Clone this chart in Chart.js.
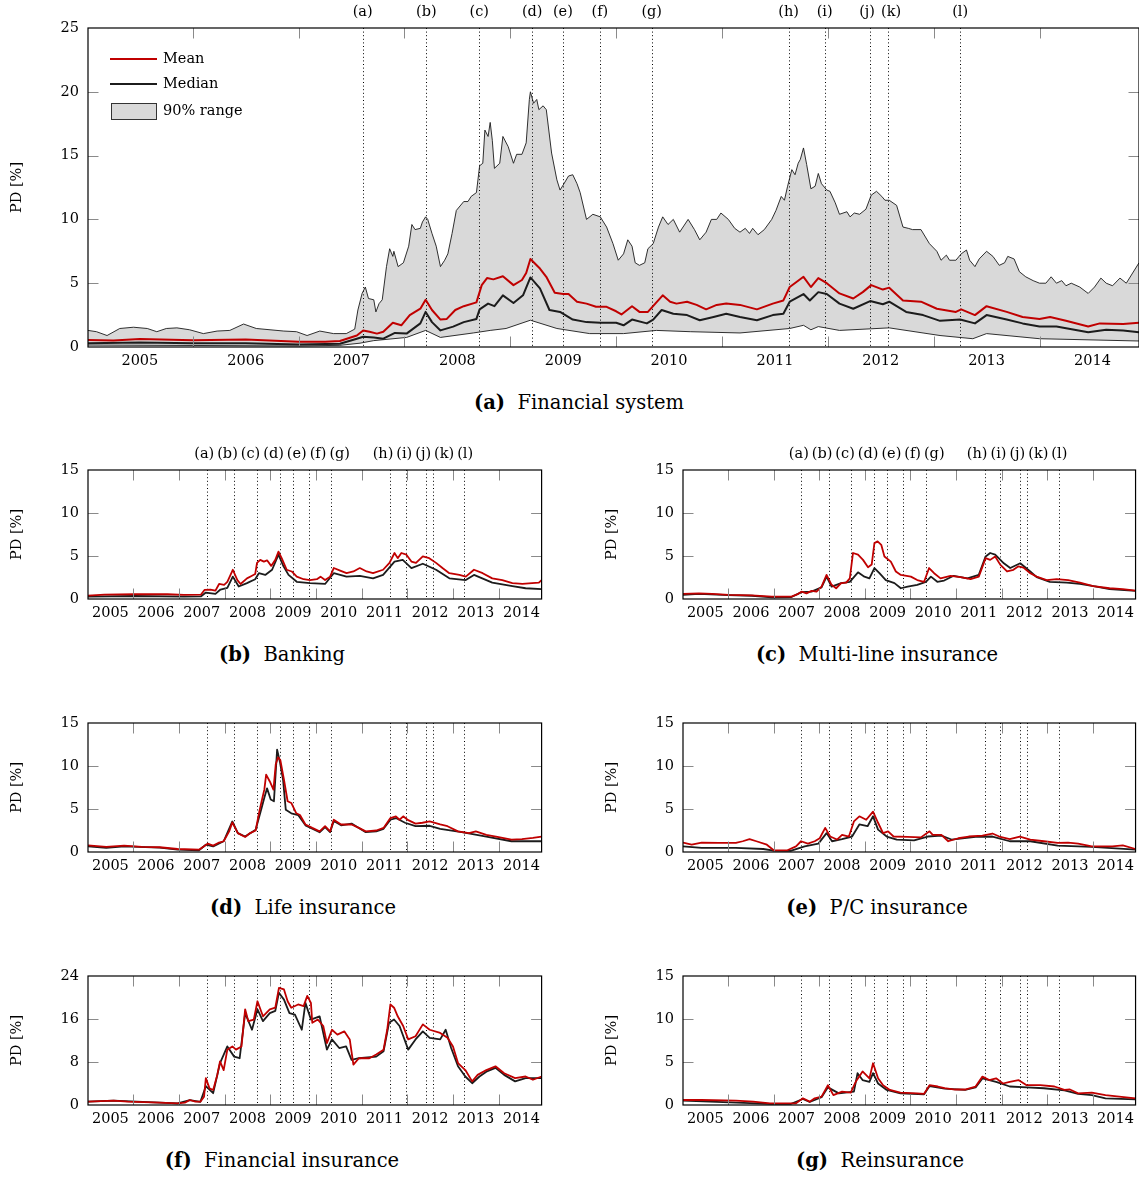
<!DOCTYPE html>
<html>
<head>
<meta charset="utf-8">
<script src="https://cdn.jsdelivr.net/npm/chart.js@4.4.0/dist/chart.umd.min.js"></script>
<style>
  body { margin:0; background:#fff; width:1139px; height:1178px; overflow:hidden; position:relative; font-family:"DejaVu Serif", serif; }
  canvas { position:absolute; }
  .cap { position:absolute; transform:translateX(-50%); white-space:nowrap; font-size:19.5px; line-height:22px; color:#000; }
</style>
</head>
<body>
<script>
// ---- axis / category data ----
const YEARS = [2005, 2006, 2007, 2008, 2009, 2010, 2011, 2012, 2013, 2014];
const HALF_YEAR_MARKS = [2005.5, 2006.5, 2007.5, 2008.5, 2009.5, 2010.5, 2011.5, 2012.5, 2013.5];
const X_MIN = 2004.51, X_MAX = 2014.44;
const EVENT_DATES = [2007.105, 2007.706, 2008.206, 2008.707, 2008.997, 2009.346, 2009.836, 2011.13, 2011.47, 2011.90, 2012.068, 2012.75];
const EVENT_LABELS = ['(a)','(b)','(c)','(d)','(e)','(f)','(g)','(h)','(i)','(j)','(k)','(l)'];
const LEGEND_LABELS = ['Mean', 'Median', '90% range'];

// ---- (a) financial system: [decimal year, PD %] ----
const MAIN_UPPER = [[2004.51,1.3],[2004.59,1.2],[2004.69,0.9],[2004.81,1.45],[2004.94,1.55],[2005.07,1.45],[2005.16,1.2],[2005.25,1.45],[2005.35,1.5],[2005.47,1.35],[2005.60,1.05],[2005.73,1.25],[2005.85,1.3],[2005.98,1.8],[2006.10,1.45],[2006.23,1.35],[2006.36,1.25],[2006.48,1.2],[2006.58,0.9],[2006.70,1.25],[2006.83,1.05],[2006.95,1.05],[2007.03,1.4],[2007.06,2.9],[2007.10,4.2],[2007.13,4.7],[2007.16,3.8],[2007.21,3.7],[2007.23,2.75],[2007.26,3.4],[2007.29,3.7],[2007.33,6.3],[2007.36,7.7],[2007.39,7.1],[2007.40,7.5],[2007.44,6.3],[2007.49,6.6],[2007.54,7.9],[2007.57,9.6],[2007.60,9.2],[2007.65,9.3],[2007.67,9.8],[2007.70,10.2],[2007.72,10.0],[2007.76,8.9],[2007.80,7.9],[2007.84,6.3],[2007.88,6.8],[2007.91,7.3],[2007.95,8.9],[2007.99,10.7],[2008.06,11.4],[2008.10,11.4],[2008.13,11.8],[2008.18,12.1],[2008.21,14.2],[2008.24,14.4],[2008.26,17.0],[2008.29,16.5],[2008.31,17.6],[2008.33,16.2],[2008.35,14.0],[2008.40,14.4],[2008.43,16.5],[2008.48,15.7],[2008.53,14.4],[2008.56,15.1],[2008.61,15.1],[2008.65,16.0],[2008.68,19.4],[2008.69,20.0],[2008.72,19.1],[2008.75,19.4],[2008.77,18.6],[2008.81,18.9],[2008.84,18.6],[2008.89,15.2],[2008.94,13.1],[2008.97,12.3],[2009.00,12.7],[2009.05,13.4],[2009.09,13.5],[2009.13,12.8],[2009.16,12.1],[2009.22,10.0],[2009.28,10.4],[2009.35,10.2],[2009.41,9.4],[2009.47,8.1],[2009.52,6.8],[2009.57,7.3],[2009.61,8.4],[2009.65,7.9],[2009.68,6.6],[2009.72,6.4],[2009.77,6.6],[2009.80,7.7],[2009.85,8.1],[2009.90,9.4],[2009.94,10.2],[2009.99,9.6],[2010.04,10.0],[2010.10,9.0],[2010.18,10.0],[2010.24,9.2],[2010.29,8.4],[2010.35,9.0],[2010.40,10.0],[2010.45,10.0],[2010.49,10.5],[2010.56,10.0],[2010.62,9.3],[2010.67,9.0],[2010.72,9.3],[2010.76,8.9],[2010.79,9.3],[2010.84,8.8],[2010.90,9.2],[2010.97,10.0],[2011.01,10.7],[2011.06,11.8],[2011.09,11.5],[2011.12,12.6],[2011.16,13.9],[2011.19,13.5],[2011.22,14.4],[2011.24,14.7],[2011.27,15.6],[2011.30,14.3],[2011.34,12.4],[2011.38,12.6],[2011.41,13.6],[2011.44,12.8],[2011.49,12.3],[2011.52,12.2],[2011.57,11.3],[2011.61,10.4],[2011.68,10.6],[2011.71,10.2],[2011.75,10.5],[2011.80,10.4],[2011.86,10.8],[2011.91,11.9],[2011.96,12.2],[2012.01,11.8],[2012.04,11.5],[2012.08,11.5],[2012.15,11.1],[2012.21,9.4],[2012.26,9.3],[2012.30,9.2],[2012.38,9.2],[2012.46,8.1],[2012.53,7.5],[2012.57,6.8],[2012.62,7.2],[2012.65,6.8],[2012.71,6.8],[2012.76,7.3],[2012.81,7.6],[2012.84,6.8],[2012.89,6.3],[2012.93,6.9],[2013.00,7.5],[2013.06,7.1],[2013.12,6.4],[2013.17,6.6],[2013.20,7.1],[2013.26,6.9],[2013.31,5.9],[2013.37,5.5],[2013.44,5.2],[2013.50,5.0],[2013.56,5.0],[2013.61,5.5],[2013.66,5.0],[2013.71,5.2],[2013.75,4.8],[2013.80,5.0],[2013.88,4.7],[2013.96,4.2],[2014.02,4.7],[2014.08,5.4],[2014.13,5.0],[2014.19,4.8],[2014.26,5.4],[2014.32,5.0],[2014.38,5.8],[2014.44,6.6]];
const MAIN_MEAN = [[2004.51,0.55],[2004.75,0.5],[2005.0,0.62],[2005.5,0.52],[2006.0,0.58],[2006.5,0.42],[2006.75,0.42],[2006.89,0.47],[2007.05,0.9],[2007.11,1.3],[2007.17,1.2],[2007.24,1.05],[2007.30,1.2],[2007.39,1.9],[2007.47,1.7],[2007.55,2.5],[2007.65,3.0],[2007.70,3.7],[2007.76,2.9],[2007.84,2.15],[2007.90,2.2],[2007.98,2.9],[2008.06,3.2],[2008.18,3.5],[2008.23,4.85],[2008.28,5.4],[2008.34,5.3],[2008.43,5.55],[2008.53,4.85],[2008.61,5.25],[2008.65,5.8],[2008.69,6.9],[2008.78,6.15],[2008.84,5.5],[2008.92,4.25],[2009.00,4.15],[2009.05,4.15],[2009.13,3.55],[2009.22,3.4],[2009.31,3.15],[2009.41,3.15],[2009.50,2.8],[2009.55,2.55],[2009.65,3.2],[2009.72,2.75],[2009.80,2.75],[2009.87,3.4],[2009.94,4.05],[2010.01,3.55],[2010.07,3.4],[2010.17,3.55],[2010.26,3.3],[2010.35,2.95],[2010.45,3.3],[2010.54,3.4],[2010.67,3.3],[2010.83,2.95],[2010.98,3.4],[2011.08,3.65],[2011.14,4.7],[2011.27,5.5],[2011.34,4.7],[2011.41,5.4],[2011.49,5.0],[2011.61,4.2],[2011.74,3.8],[2011.83,4.3],[2011.91,4.85],[2012.02,4.5],[2012.08,4.65],[2012.21,3.65],[2012.38,3.55],[2012.53,3.0],[2012.71,2.75],[2012.76,2.95],[2012.89,2.5],[2013.00,3.2],[2013.19,2.75],[2013.34,2.35],[2013.50,2.2],[2013.60,2.35],[2013.75,2.05],[2013.96,1.6],[2014.07,1.85],[2014.29,1.8],[2014.44,1.9]];
const MAIN_MEDIAN = [[2004.51,0.3],[2005.0,0.35],[2005.5,0.3],[2006.0,0.3],[2006.5,0.2],[2006.89,0.26],[2007.05,0.65],[2007.11,0.8],[2007.21,0.75],[2007.30,0.65],[2007.41,1.1],[2007.52,1.05],[2007.65,1.85],[2007.70,2.75],[2007.76,1.95],[2007.84,1.3],[2007.96,1.6],[2008.06,1.95],[2008.18,2.2],[2008.21,2.95],[2008.29,3.4],[2008.35,3.2],[2008.43,4.05],[2008.53,3.45],[2008.62,4.05],[2008.69,5.45],[2008.78,4.6],[2008.87,2.9],[2008.97,2.75],[2009.09,2.15],[2009.22,1.95],[2009.35,1.9],[2009.50,1.9],[2009.57,1.7],[2009.65,2.15],[2009.79,1.85],[2009.85,2.15],[2009.93,2.9],[2010.04,2.6],[2010.17,2.5],[2010.29,2.1],[2010.42,2.35],[2010.54,2.6],[2010.67,2.35],[2010.83,2.1],[2010.98,2.5],[2011.08,2.6],[2011.14,3.55],[2011.27,4.15],[2011.33,3.65],[2011.41,4.3],[2011.49,4.15],[2011.61,3.4],[2011.74,3.0],[2011.90,3.6],[2012.02,3.35],[2012.08,3.55],[2012.24,2.75],[2012.40,2.5],[2012.56,2.05],[2012.75,2.15],[2012.89,1.85],[2013.00,2.5],[2013.19,2.15],[2013.34,1.85],[2013.50,1.6],[2013.66,1.6],[2013.96,1.15],[2014.13,1.35],[2014.29,1.3],[2014.44,1.15]];
const MAIN_LOWER = [[2004.51,0.15],[2005.5,0.12],[2006.5,0.08],[2006.89,0.13],[2007.08,0.3],[2007.21,0.5],[2007.52,0.75],[2007.70,1.3],[2007.84,0.75],[2008.15,1.1],[2008.31,1.3],[2008.46,1.45],[2008.69,2.1],[2008.94,1.45],[2009.25,1.05],[2009.57,1.05],[2009.88,1.3],[2010.20,1.2],[2010.67,1.1],[2011.14,1.45],[2011.27,1.7],[2011.34,1.35],[2011.41,1.6],[2011.61,1.3],[2012.08,1.5],[2012.56,0.9],[2012.87,0.65],[2013.00,1.05],[2013.50,0.65],[2014.44,0.47]];

// ---- (b) banking ----
const BANK_MEAN = [[2004.51,0.39],[2004.87,0.5],[2005.53,0.55],[2006.25,0.55],[2006.61,0.47],[2006.98,0.5],[2007.06,1.05],[2007.19,1.1],[2007.30,0.97],[2007.38,1.75],[2007.49,1.65],[2007.56,2.0],[2007.68,3.4],[2007.78,2.2],[2007.85,1.75],[2007.99,2.4],[2008.10,2.7],[2008.17,2.9],[2008.21,4.2],[2008.28,4.55],[2008.36,4.35],[2008.43,4.5],[2008.52,3.85],[2008.61,4.55],[2008.68,5.5],[2008.75,4.75],[2008.86,3.4],[2008.97,3.2],[2009.08,2.6],[2009.23,2.3],[2009.37,2.2],[2009.52,2.3],[2009.60,2.6],[2009.70,2.2],[2009.81,2.6],[2009.89,3.6],[2010.03,3.3],[2010.17,3.0],[2010.32,3.2],[2010.46,3.6],[2010.61,3.2],[2010.75,3.0],[2010.97,3.4],[2011.11,4.2],[2011.22,5.35],[2011.29,4.75],[2011.37,5.35],[2011.48,5.15],[2011.59,4.35],[2011.69,4.2],[2011.84,4.95],[2011.98,4.75],[2012.13,4.2],[2012.27,3.6],[2012.42,3.0],[2012.64,2.8],[2012.78,2.6],[2012.96,3.4],[2013.15,3.0],[2013.36,2.4],[2013.58,2.2],[2013.80,1.85],[2014.02,1.75],[2014.23,1.85],[2014.38,1.9],[2014.44,2.2]];
const BANK_MEDIAN = [[2004.51,0.27],[2005.53,0.35],[2006.61,0.27],[2006.98,0.3],[2007.09,0.75],[2007.30,0.6],[2007.41,1.1],[2007.56,1.3],[2007.68,2.6],[2007.81,1.45],[2007.99,1.85],[2008.17,2.3],[2008.25,3.0],[2008.39,2.8],[2008.54,3.4],[2008.68,5.15],[2008.79,3.8],[2008.90,2.8],[2009.08,2.0],[2009.37,1.85],[2009.70,1.75],[2009.89,3.0],[2010.17,2.6],[2010.46,2.7],[2010.75,2.4],[2010.97,2.8],[2011.22,4.35],[2011.40,4.55],[2011.59,3.6],[2011.84,4.1],[2012.13,3.4],[2012.42,2.4],[2012.78,2.2],[2012.96,2.8],[2013.36,1.9],[2013.80,1.5],[2014.09,1.25],[2014.44,1.15]];

// ---- (c) multi-line insurance ----
const MULTI_MEAN = [[2004.51,0.6],[2004.86,0.65],[2005.15,0.6],[2005.51,0.47],[2006.02,0.43],[2006.46,0.27],[2006.89,0.27],[2007.04,0.6],[2007.11,0.85],[2007.22,0.65],[2007.33,0.95],[2007.44,0.85],[2007.55,1.45],[2007.66,2.8],[2007.77,1.65],[2007.87,1.25],[2007.98,1.85],[2008.09,1.9],[2008.17,2.4],[2008.24,5.35],[2008.35,5.15],[2008.46,4.55],[2008.57,3.7],[2008.65,4.0],[2008.71,6.5],[2008.78,6.7],[2008.86,6.3],[2008.93,4.95],[2009.07,4.35],[2009.18,3.2],[2009.29,2.8],[2009.51,2.6],[2009.65,2.2],[2009.80,2.0],[2009.91,3.6],[2010.02,3.0],[2010.16,2.4],[2010.38,2.7],[2010.60,2.55],[2010.82,2.3],[2011.00,2.6],[2011.15,4.75],[2011.25,4.55],[2011.36,4.95],[2011.47,4.0],[2011.62,3.2],[2011.76,3.4],[2011.87,3.8],[2011.98,3.65],[2012.13,3.0],[2012.27,2.6],[2012.49,2.2],[2012.71,2.3],[2012.96,2.2],[2013.22,1.9],[2013.51,1.5],[2013.87,1.25],[2014.16,1.15],[2014.44,0.97]];
const MULTI_MEDIAN = [[2004.51,0.47],[2004.86,0.6],[2005.51,0.45],[2006.02,0.38],[2006.46,0.2],[2006.89,0.23],[2007.11,0.8],[2007.33,0.85],[2007.55,1.35],[2007.66,2.6],[2007.77,1.45],[2007.98,1.85],[2008.17,2.0],[2008.35,3.1],[2008.49,2.6],[2008.60,2.4],[2008.71,3.6],[2008.82,3.0],[2008.96,2.2],[2009.15,1.85],[2009.29,1.25],[2009.44,1.45],[2009.65,1.65],[2009.84,2.0],[2009.95,2.6],[2010.09,2.0],[2010.24,2.15],[2010.45,2.7],[2010.75,2.4],[2011.00,2.8],[2011.15,4.95],[2011.25,5.35],[2011.36,5.15],[2011.55,4.15],[2011.69,3.6],[2011.91,4.15],[2012.13,3.2],[2012.27,2.55],[2012.56,2.0],[2012.93,1.9],[2013.22,1.75],[2013.58,1.45],[2013.87,1.15],[2014.44,0.95]];

// ---- (d) life insurance ----
const LIFE_MEAN = [[2004.51,0.78],[2004.91,0.6],[2005.30,0.74],[2005.69,0.6],[2006.08,0.55],[2006.47,0.35],[2006.94,0.27],[2007.05,0.66],[2007.13,0.97],[2007.25,0.74],[2007.36,1.05],[2007.48,1.25],[2007.60,2.4],[2007.67,3.45],[2007.79,2.2],[2007.95,1.75],[2008.06,2.2],[2008.18,2.5],[2008.26,4.7],[2008.32,6.1],[2008.37,7.25],[2008.41,9.0],[2008.49,8.2],[2008.57,7.25],[2008.62,10.2],[2008.67,11.0],[2008.72,10.7],[2008.80,8.4],[2008.88,5.9],[2008.96,5.7],[2009.07,4.5],[2009.15,4.3],[2009.27,3.2],[2009.42,2.8],[2009.58,2.4],[2009.70,3.0],[2009.81,2.4],[2009.89,3.75],[2010.05,3.2],[2010.28,3.2],[2010.44,2.8],[2010.59,2.4],[2010.82,2.5],[2010.98,2.8],[2011.13,3.95],[2011.25,4.15],[2011.33,3.75],[2011.41,4.15],[2011.52,3.7],[2011.68,3.3],[2011.83,3.4],[2011.99,3.55],[2012.22,3.2],[2012.38,3.0],[2012.61,2.4],[2012.85,2.2],[2013.00,2.4],[2013.23,2.0],[2013.47,1.75],[2013.78,1.45],[2014.01,1.5],[2014.25,1.65],[2014.44,1.8]];
const LIFE_MEDIAN = [[2004.51,0.66],[2004.91,0.47],[2005.30,0.66],[2006.08,0.5],[2006.47,0.27],[2006.94,0.2],[2007.09,0.85],[2007.25,0.66],[2007.48,1.25],[2007.67,3.55],[2007.79,2.2],[2007.95,1.8],[2008.18,2.6],[2008.30,4.9],[2008.37,6.3],[2008.43,7.4],[2008.51,6.1],[2008.58,5.9],[2008.65,11.9],[2008.71,10.5],[2008.78,8.4],[2008.84,4.9],[2008.96,4.5],[2009.11,4.3],[2009.27,3.1],[2009.42,2.7],[2009.58,2.3],[2009.70,2.9],[2009.81,2.3],[2009.89,3.6],[2010.05,3.1],[2010.28,3.3],[2010.44,2.8],[2010.59,2.3],[2010.82,2.4],[2010.98,2.7],[2011.13,3.75],[2011.25,3.95],[2011.45,3.4],[2011.68,3.0],[2011.99,3.05],[2012.22,2.7],[2012.69,2.3],[2013.23,1.8],[2013.78,1.25],[2014.44,1.25]];

// ---- (e) P/C insurance ----
const PC_MEAN = [[2004.51,1.1],[2004.70,0.85],[2004.92,1.1],[2005.30,1.05],[2005.67,1.05],[2005.82,1.25],[2005.97,1.5],[2006.12,1.25],[2006.35,0.85],[2006.50,0.2],[2006.80,0.2],[2006.99,0.66],[2007.10,1.25],[2007.25,0.97],[2007.40,1.25],[2007.51,1.6],[2007.63,2.8],[2007.74,1.8],[2007.89,1.45],[2008.00,2.0],[2008.15,1.8],[2008.26,3.55],[2008.38,4.15],[2008.53,3.75],[2008.68,4.7],[2008.79,3.4],[2008.90,2.2],[2009.01,2.4],[2009.13,1.8],[2009.43,1.75],[2009.73,1.7],[2009.92,2.4],[2009.99,2.0],[2010.18,2.0],[2010.33,1.25],[2010.55,1.6],[2010.78,1.8],[2011.08,1.9],[2011.30,2.15],[2011.45,1.8],[2011.68,1.5],[2011.90,1.8],[2012.13,1.45],[2012.43,1.25],[2012.73,1.05],[2012.96,1.1],[2013.18,0.97],[2013.48,0.66],[2013.93,0.66],[2014.16,0.78],[2014.44,0.35]];
const PC_MEDIAN = [[2004.51,0.66],[2004.92,0.47],[2005.67,0.47],[2006.27,0.35],[2006.50,0.15],[2006.87,0.12],[2007.18,0.66],[2007.48,0.97],[2007.66,2.2],[2007.78,1.25],[2008.00,1.5],[2008.22,1.8],[2008.38,3.2],[2008.56,3.0],[2008.68,4.15],[2008.79,2.6],[2008.98,1.8],[2009.20,1.45],[2009.58,1.35],[2009.88,1.8],[2010.18,1.9],[2010.40,1.45],[2010.93,1.75],[2011.30,1.8],[2011.68,1.25],[2012.13,1.25],[2012.73,0.74],[2013.48,0.6],[2014.44,0.27]];

// ---- (f) financial insurance ----
const FIN_MEAN = [[2004.51,0.62],[2005.07,0.8],[2005.38,0.62],[2006.08,0.44],[2006.47,0.31],[2006.63,0.44],[2006.74,0.93],[2006.86,0.62],[2006.97,0.62],[2007.05,1.55],[2007.09,5.0],[2007.17,3.1],[2007.25,2.8],[2007.34,5.6],[2007.40,8.1],[2007.48,6.5],[2007.56,10.3],[2007.67,10.9],[2007.75,10.3],[2007.87,10.9],[2007.95,17.8],[2008.02,15.6],[2008.14,15.9],[2008.22,19.3],[2008.34,16.5],[2008.49,17.8],[2008.61,18.1],[2008.69,21.8],[2008.80,21.5],[2008.88,19.3],[2008.96,18.1],[2009.11,18.7],[2009.23,18.4],[2009.31,20.3],[2009.39,19.0],[2009.42,15.3],[2009.54,15.9],[2009.66,14.7],[2009.74,11.5],[2009.85,14.0],[2009.97,13.1],[2010.12,13.7],[2010.24,12.2],[2010.32,7.5],[2010.44,8.7],[2010.67,8.7],[2010.82,9.4],[2010.98,10.3],[2011.06,14.0],[2011.13,18.7],[2011.21,18.1],[2011.29,16.5],[2011.41,14.7],[2011.52,12.2],[2011.68,12.8],[2011.84,15.0],[2011.99,14.0],[2012.22,13.4],[2012.38,12.5],[2012.50,10.9],[2012.61,7.8],[2012.77,6.5],[2012.92,4.4],[2013.04,5.6],[2013.23,6.5],[2013.43,7.2],[2013.62,5.9],[2013.86,5.0],[2014.09,5.3],[2014.25,4.7],[2014.44,5.3]];
const FIN_MEDIAN = [[2004.51,0.62],[2005.07,0.8],[2006.08,0.44],[2006.47,0.31],[2006.74,0.9],[2006.97,0.6],[2007.09,3.5],[2007.25,2.2],[2007.40,7.8],[2007.56,10.9],[2007.71,9.0],[2007.83,8.7],[2007.95,17.1],[2008.10,14.0],[2008.22,17.8],[2008.34,15.6],[2008.49,17.1],[2008.61,17.5],[2008.69,20.9],[2008.80,19.6],[2008.92,17.1],[2009.04,16.8],[2009.19,14.0],[2009.27,19.0],[2009.39,15.9],[2009.58,16.5],[2009.74,10.3],[2009.85,12.2],[2010.01,10.6],[2010.16,10.9],[2010.28,8.4],[2010.44,8.7],[2010.82,9.0],[2010.98,10.0],[2011.10,15.3],[2011.21,15.9],[2011.33,14.7],[2011.52,10.3],[2011.68,12.2],[2011.84,13.7],[2011.99,12.5],[2012.22,12.2],[2012.34,14.0],[2012.46,10.6],[2012.61,7.2],[2012.77,5.3],[2012.92,4.05],[2013.08,5.3],[2013.23,6.2],[2013.43,6.9],[2013.62,5.6],[2013.86,4.4],[2014.09,5.0],[2014.44,5.0]];

// ---- (g) reinsurance ----
const RE_MEAN = [[2004.51,0.58],[2004.92,0.58],[2005.67,0.5],[2006.05,0.39],[2006.42,0.19],[2006.87,0.19],[2006.99,0.19],[2007.14,0.78],[2007.29,0.39],[2007.40,0.78],[2007.55,0.97],[2007.69,2.3],[2007.81,1.15],[2008.00,1.55],[2008.19,1.45],[2008.30,2.7],[2008.45,3.9],[2008.60,3.1],[2008.68,4.85],[2008.79,3.1],[2008.90,2.3],[2009.05,1.75],[2009.28,1.45],[2009.65,1.35],[2009.80,1.3],[2009.92,2.3],[2010.10,2.15],[2010.25,1.95],[2010.48,1.8],[2010.70,1.8],[2010.93,2.15],[2011.08,3.3],[2011.23,2.9],[2011.38,3.1],[2011.53,2.5],[2011.68,2.7],[2011.87,2.9],[2012.05,2.3],[2012.35,2.3],[2012.66,2.15],[2012.88,1.75],[2013.00,1.8],[2013.18,1.35],[2013.48,1.45],[2013.78,1.15],[2014.08,0.97],[2014.44,0.78]];
const RE_MEDIAN = [[2004.51,0.5],[2006.42,0.12],[2006.87,0.12],[2007.14,0.7],[2007.29,0.35],[2007.55,0.9],[2007.69,2.05],[2007.93,1.35],[2008.26,1.55],[2008.34,3.7],[2008.45,2.9],[2008.60,2.7],[2008.68,3.7],[2008.79,2.5],[2008.98,1.75],[2009.28,1.35],[2009.80,1.25],[2009.92,2.2],[2010.25,1.9],[2010.70,1.75],[2010.93,2.05],[2011.08,3.1],[2011.38,2.7],[2011.68,2.15],[2012.05,2.05],[2012.43,1.95],[2012.88,1.7],[2013.18,1.3],[2013.48,1.15],[2013.78,0.78],[2014.44,0.66]];

// ---- styling ----
const RED = '#c00000';
const DARK = '#1c1c1c';
const BAND = '#d9d9d9';
const TICK_FONT = { family: 'DejaVu Serif', size: 14.5 };
const TICK_GRAY = '#8a8a8a';

// panel layout (canvas box + plot offsets)
const PANELS = [
  { x:0,   y:0,   w:1140, h:378, padTop:28, xAxisH:31, yMax:25, yStep:5, mean:MAIN_MEAN, median:MAIN_MEDIAN, upper:MAIN_UPPER, lower:MAIN_LOWER, labels:true, legend:true, gap:6, lw:2,
    cap:['(a)','Financial system'], capX:579, capY:392 },
  { x:0,   y:440, w:546, h:190, padTop:30, xAxisH:31, yMax:15, yStep:5, mean:BANK_MEAN, median:BANK_MEDIAN, labels:true, gap:3, lw:1.8,
    cap:['(b)','Banking'], capX:282, capY:644 },
  { x:595, y:440, w:545, h:190, padTop:30, xAxisH:31, yMax:15, yStep:5, mean:MULTI_MEAN, median:MULTI_MEDIAN, labels:true, gap:3, lw:1.8,
    cap:['(c)','Multi-line insurance'], capX:877, capY:644 },
  { x:0,   y:693, w:546, h:190, padTop:30, xAxisH:31, yMax:15, yStep:5, mean:LIFE_MEAN, median:LIFE_MEDIAN, lw:1.8,
    cap:['(d)','Life insurance'], capX:303, capY:897 },
  { x:595, y:693, w:545, h:190, padTop:30, xAxisH:31, yMax:15, yStep:5, mean:PC_MEAN, median:PC_MEDIAN, lw:1.8,
    cap:['(e)','P/C insurance'], capX:877, capY:897 },
  { x:0,   y:946, w:546, h:190, padTop:30, xAxisH:31, yMax:24, yStep:8, mean:FIN_MEAN, median:FIN_MEDIAN, lw:1.8,
    cap:['(f)','Financial insurance'], capX:282, capY:1150 },
  { x:595, y:946, w:545, h:190, padTop:30, xAxisH:31, yMax:15, yStep:5, mean:RE_MEAN, median:RE_MEDIAN, lw:1.8,
    cap:['(g)','Reinsurance'], capX:880, capY:1150 }
];

function toXY(pts){ return pts.map(p => ({ x:p[0], y:p[1] })); }

// spread overlapping event labels apart while keeping them near their lines
function packLabels(xs, ws, gap){
  const pos = xs.slice();
  for(let it=0; it<300; it++){
    let moved = false;
    for(let i=1;i<pos.length;i++){
      const need = (ws[i-1]+ws[i])/2 + gap;
      const d = need - (pos[i]-pos[i-1]);
      if(d > 0.01){ pos[i-1] -= d/2; pos[i] += d/2; moved = true; }
    }
    if(!moved) break;
  }
  return pos;
}

const panelDeco = {
  id:'panelDeco',
  beforeDatasetsDraw(chart){
    // dotted event lines, under the series
    const { ctx, chartArea:a, scales:{ x } } = chart;
    ctx.save();
    ctx.strokeStyle = '#000';
    ctx.lineWidth = 1;
    ctx.setLineDash([1, 2.6]);
    EVENT_DATES.forEach(t => {
      const px = Math.round(x.getPixelForValue(t)) + 0.5;
      ctx.beginPath(); ctx.moveTo(px, a.top); ctx.lineTo(px, a.bottom); ctx.stroke();
    });
    ctx.restore();
  },
  afterDatasetsDraw(chart, args, opts){
    const { ctx, chartArea:a, scales:{ x, y } } = chart;
    const L = 10.5;
    ctx.save();
    // inward tick marks
    ctx.strokeStyle = TICK_GRAY;
    ctx.lineWidth = 1;
    HALF_YEAR_MARKS.forEach(t => {
      const px = Math.round(x.getPixelForValue(t)) + 0.5;
      ctx.beginPath();
      ctx.moveTo(px, a.top); ctx.lineTo(px, a.top + L);
      ctx.moveTo(px, a.bottom); ctx.lineTo(px, a.bottom - L);
      ctx.stroke();
    });
    y.ticks.forEach(tk => {
      if(tk.value <= y.min || tk.value >= y.max) return;
      const py = Math.round(y.getPixelForValue(tk.value)) + 0.5;
      ctx.beginPath();
      ctx.moveTo(a.left, py); ctx.lineTo(a.left + L, py);
      ctx.moveTo(a.right, py); ctx.lineTo(a.right - L, py);
      ctx.stroke();
    });
    // frame
    ctx.strokeStyle = '#000';
    ctx.lineWidth = 1.2;
    ctx.strokeRect(a.left, a.top, a.right - a.left, a.bottom - a.top);

    ctx.font = '14.5px "DejaVu Serif"';
    ctx.fillStyle = '#000';
    // event labels above the frame
    if(opts.labels){
      const xs = EVENT_DATES.map(t => x.getPixelForValue(t));
      const ws = EVENT_LABELS.map(s => ctx.measureText(s).width);
      const pos = packLabels(xs, ws, opts.gap || 0);
      ctx.textAlign = 'center';
      ctx.textBaseline = 'middle';
      EVENT_LABELS.forEach((s,i) => ctx.fillText(s, pos[i], a.top - 16));
    }
    // legend inside the plot, top-left
    if(opts.legend){
      const lx = a.left + 22, tx = a.left + 75;
      const rows = [a.top + 31, a.top + 56, a.top + 83];
      ctx.lineWidth = 2;
      ctx.strokeStyle = RED;
      ctx.beginPath(); ctx.moveTo(lx, rows[0]); ctx.lineTo(lx + 47, rows[0]); ctx.stroke();
      ctx.strokeStyle = DARK;
      ctx.beginPath(); ctx.moveTo(lx, rows[1]); ctx.lineTo(lx + 47, rows[1]); ctx.stroke();
      ctx.fillStyle = BAND;
      ctx.fillRect(lx + 1, rows[2] - 8, 45, 16);
      ctx.strokeStyle = '#333';
      ctx.lineWidth = 1;
      ctx.strokeRect(lx + 1.5, rows[2] - 7.5, 45, 16);
      ctx.fillStyle = '#000';
      ctx.textAlign = 'left';
      ctx.textBaseline = 'middle';
      LEGEND_LABELS.forEach((s,i) => ctx.fillText(s, tx, rows[i]));
    }
    ctx.restore();
  }
};

function buildPanel(p){
  const cv = document.createElement('canvas');
  cv.width = p.w; cv.height = p.h;
  cv.style.left = p.x + 'px'; cv.style.top = p.y + 'px';
  document.body.appendChild(cv);

  const datasets = [
    { label:'Mean', data:toXY(p.mean), borderColor:RED, borderWidth:p.lw, fill:false },
    { label:'Median', data:toXY(p.median), borderColor:DARK, borderWidth:p.lw, fill:false }
  ];
  if(p.upper){
    datasets.push({ label:'90% range', data:toXY(p.upper), borderColor:'#1a1a1a', borderWidth:0.9, backgroundColor:BAND, fill:'+1' });
    datasets.push({ label:'5% quantile', data:toXY(p.lower), borderColor:'#1a1a1a', borderWidth:0.9, fill:false });
  }

  new Chart(cv, {
    type:'line',
    data:{ datasets },
    options:{
      responsive:false,
      animation:false,
      events:[],
      layout:{ padding:{ top:p.padTop, right:1, left:0, bottom:0 } },
      elements:{ point:{ radius:0 }, line:{ tension:0, borderJoinStyle:'round' } },
      plugins:{
        legend:{ display:false },
        tooltip:{ enabled:false },
        filler:{ drawTime:'beforeDatasetsDraw' },
        panelDeco:{ labels:!!p.labels, legend:!!p.legend, gap:p.gap }
      },
      scales:{
        x:{
          type:'linear', min:X_MIN, max:X_MAX,
          grid:{ display:false, drawTicks:false }, border:{ display:false },
          afterBuildTicks: s => { s.ticks = YEARS.map(v => ({ value:v })); },
          ticks:{ font:TICK_FONT, color:'#000', padding:6, maxRotation:0, autoSkip:false, callback: v => String(v) },
          afterFit: s => { s.height = p.xAxisH; }
        },
        y:{
          min:0, max:p.yMax,
          grid:{ display:false, drawTicks:false }, border:{ display:false },
          ticks:{ stepSize:p.yStep, font:TICK_FONT, color:'#000', padding:9 },
          title:{ display:true, text:'PD [%]', font:TICK_FONT, color:'#000', padding:{ top:9, bottom:0 } },
          afterFit: s => { s.width = 88; }
        }
      }
    },
    plugins:[panelDeco]
  });

  const cap = document.createElement('div');
  cap.className = 'cap';
  cap.style.left = p.capX + 'px';
  cap.style.top = p.capY + 'px';
  cap.innerHTML = '<b>' + p.cap[0] + '</b>&nbsp; ' + p.cap[1];
  document.body.appendChild(cap);
}

PANELS.forEach(buildPanel);
</script>
</body>
</html>
